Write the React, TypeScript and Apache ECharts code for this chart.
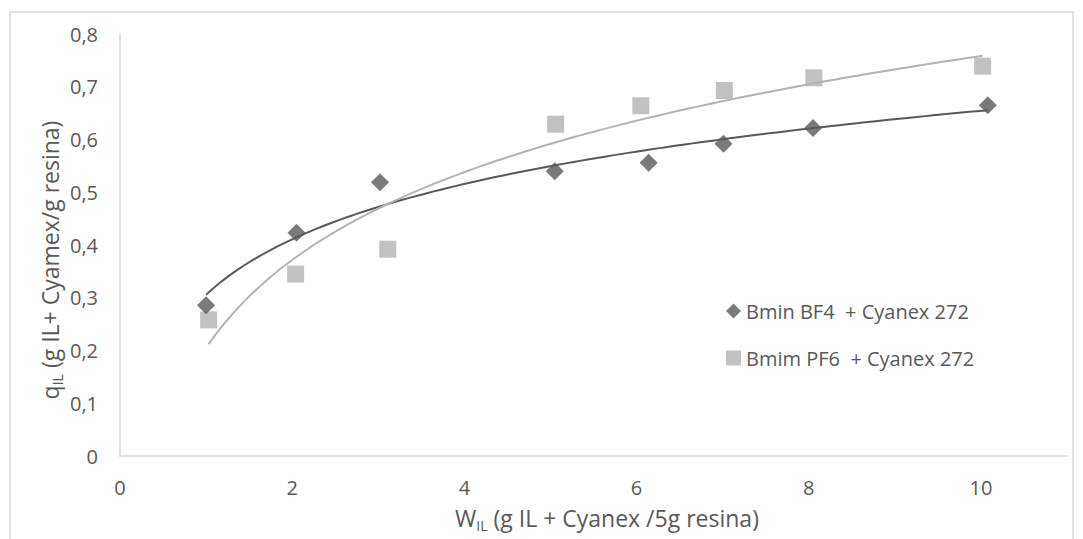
import React, { useEffect, useRef } from "react";
import * as echarts from "echarts";

const seriesNames = ["Bmin BF4  + Cyanex 272", "Bmim PF6  + Cyanex 272"];
const bf4X = [1.0, 2.05, 3.02, 5.05, 6.14, 7.01, 8.05, 10.08];
const bf4Y = [0.286, 0.423, 0.519, 0.54, 0.556, 0.592, 0.622, 0.665];
const pf6X = [1.03, 2.04, 3.11, 5.06, 6.05, 7.02, 8.06, 10.02];
const pf6Y = [0.258, 0.345, 0.392, 0.629, 0.664, 0.693, 0.717, 0.739];

const FONT = "Open Sans";
const TEXT = "#595959";
const DARK = "#595959";
const LIGHT = "#b3b3b3";

// Logarithmic least-squares trendline (as Excel computes it), derived from the data
function logTrend(xs: number[], ys: number[]) {
  const n = xs.length;
  const lx = xs.map((x) => Math.log(x));
  const mx = lx.reduce((a, b) => a + b, 0) / n;
  const my = ys.reduce((a, b) => a + b, 0) / n;
  let sxy = 0;
  let sxx = 0;
  for (let i = 0; i < n; i++) {
    sxy += (lx[i] - mx) * (ys[i] - my);
    sxx += (lx[i] - mx) * (lx[i] - mx);
  }
  const a = sxy / sxx;
  const b = my - a * mx;
  const x0 = Math.min(...xs);
  const x1 = Math.max(...xs);
  const pts: number[][] = [];
  const steps = 100;
  for (let i = 0; i <= steps; i++) {
    const x = x0 + ((x1 - x0) * i) / steps;
    pts.push([x, a * Math.log(x) + b]);
  }
  return pts;
}

const titleRich = {
  a: { fontSize: 23, fontFamily: FONT, fill: TEXT, lineHeight: 23 },
  s: { fontSize: 14, fontFamily: FONT, fill: TEXT, lineHeight: 14, padding: [15, 0, 0, 0] },
};

export default function App() {
  const ref = useRef<HTMLDivElement>(null);
  useEffect(() => {
    if (!ref.current) return;
    const chart = echarts.init(ref.current, undefined, { renderer: "svg" });
    chart.setOption({
      animation: false,
      backgroundColor: "#ffffff",
      textStyle: { fontFamily: FONT },
      grid: { left: 120, right: 16, top: 34, bottom: 83, containLabel: false },
      xAxis: {
        type: "value",
        min: 0,
        max: 11,
        interval: 2,
        axisLine: { show: true, lineStyle: { color: "#d9d9d9", width: 1.5 } },
        axisTick: { show: false },
        splitLine: { show: false },
        axisLabel: {
          showMaxLabel: false,
          margin: 21,
          color: TEXT,
          fontSize: 20,
          lineHeight: 20,
          fontFamily: FONT,
        },
      },
      yAxis: {
        type: "value",
        min: 0,
        max: 0.8,
        interval: 0.1,
        axisLine: { show: true, lineStyle: { color: "#d9d9d9", width: 1.5 } },
        axisTick: { show: false },
        splitLine: { show: false },
        axisLabel: {
          margin: 22,
          color: TEXT,
          fontSize: 20,
          fontFamily: FONT,
          formatter: (v: number) => (Math.round(v * 10) / 10).toString().replace(".", ","),
        },
      },
      legend: {
        data: seriesNames,
        orient: "vertical",
        left: 721,
        top: 296,
        itemWidth: 15,
        itemHeight: 15,
        itemGap: 27,
        textStyle: { color: TEXT, fontSize: 20, fontFamily: FONT },
      },
      graphic: [
        {
          type: "rect",
          silent: true,
          shape: { x: 10, y: 12, width: 1063, height: 600 },
          style: { fill: "none", stroke: "#d9d9d9", lineWidth: 1.5 },
        },
        {
          type: "text",
          x: 607,
          y: 518,
          style: {
            text: "{a|W}{s|IL}{a| (g IL + Cyanex /5g resina)}",
            align: "center",
            verticalAlign: "middle",
            fill: TEXT,
            rich: titleRich,
          },
        },
        {
          type: "text",
          x: 50,
          y: 260,
          rotation: Math.PI / 2,
          style: {
            text: "{a|q}{s|IL}{a| (g IL+ Cyamex/g resina)}",
            align: "center",
            verticalAlign: "middle",
            fill: TEXT,
            rich: titleRich,
          },
        },
      ],
      series: [
        {
          name: "trend-bf4",
          type: "line",
          data: logTrend(bf4X, bf4Y),
          showSymbol: false,
          symbol: "none",
          lineStyle: { color: DARK, width: 2 },
          silent: true,
          z: 1,
        },
        {
          name: "trend-pf6",
          type: "line",
          data: logTrend(pf6X, pf6Y),
          showSymbol: false,
          symbol: "none",
          lineStyle: { color: LIGHT, width: 2 },
          silent: true,
          z: 1,
        },
        {
          name: seriesNames[0],
          type: "scatter",
          symbol: "diamond",
          symbolSize: 18,
          itemStyle: { color: DARK },
          data: bf4X.map((x, i) => [x, bf4Y[i]]),
          z: 3,
        },
        {
          name: seriesNames[1],
          type: "scatter",
          symbol: "rect",
          symbolSize: 17,
          itemStyle: { color: LIGHT },
          data: pf6X.map((x, i) => [x, pf6Y[i]]),
          z: 2,
        },
      ],
    });
    return () => chart.dispose();
  }, []);
  return (
    <div
      ref={ref}
      style={{ position: "fixed", left: 0, top: 0, width: 1083, height: 539, background: "#fff" }}
    />
  );
}
